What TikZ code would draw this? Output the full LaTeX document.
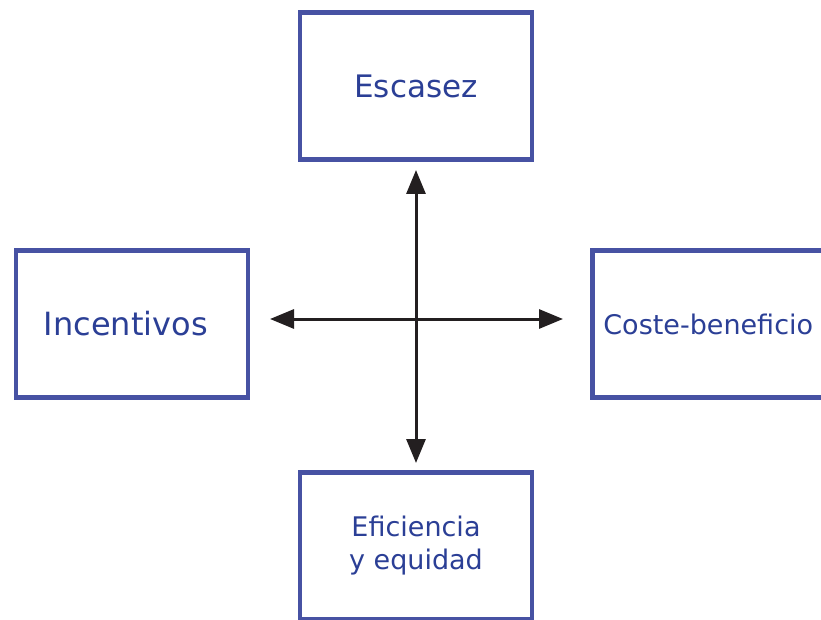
\documentclass[tikz,border=0pt]{standalone}
\usepackage{fontspec}
\setmainfont{DejaVu Sans}
\usepackage{xcolor}
\definecolor{frameBlue}{HTML}{4752A3}
\definecolor{textBlue}{HTML}{2B3F96}
\definecolor{arrowDark}{HTML}{231F20}
\usepackage{tikz}
\usetikzlibrary{positioning,calc,arrows.meta}
\tikzset{%
  conceptBox/.style={%
    rectangle,
    draw=frameBlue,
    line width=4.5pt,
    fill=white,
    text=textBlue,
    minimum width=232pt,
    minimum height=147pt,
    align=center
  },
  arrowLine/.style={%
    {Triangle[length=24pt,width=19pt]}-{Triangle[length=24pt,width=19pt]},
    line width=3pt,
    color=arrowDark
  }
}

\begin{document}
\begin{tikzpicture}[x=1pt,y=-1pt]
            \useasboundingbox (0,0) rectangle (821,620);
            \clip (0,0) rectangle (821,620);
            \coordinate (hub) at (416,319);
            \node[conceptBox, above=157pt of hub, font=\fontsize{31}{37}\selectfont] (escasez) {Escasez};
            \node[conceptBox, left=166pt of hub, yshift=-5pt, font=\fontsize{32}{38}\selectfont] (incentivos) {\hspace*{-12pt}Incentivos};
            \node[conceptBox, right=174pt of hub, yshift=-5pt, font=\fontsize{27}{32}\selectfont] (coste) {Coste-beneficio};
            \node[conceptBox, below=151pt of hub, font=\fontsize{27}{33}\selectfont] (eficiencia) {Eficiencia\\y equidad};

            % double arrows between the boxes, crossing at the hub
            \draw[arrowLine, shorten <=8pt, shorten >=7pt] (escasez) -- (eficiencia);
            \draw[arrowLine, shorten <=20pt, shorten >=27pt] (incentivos.east |- hub) -- (coste.west |- hub);
        \end{tikzpicture}
\end{document}
